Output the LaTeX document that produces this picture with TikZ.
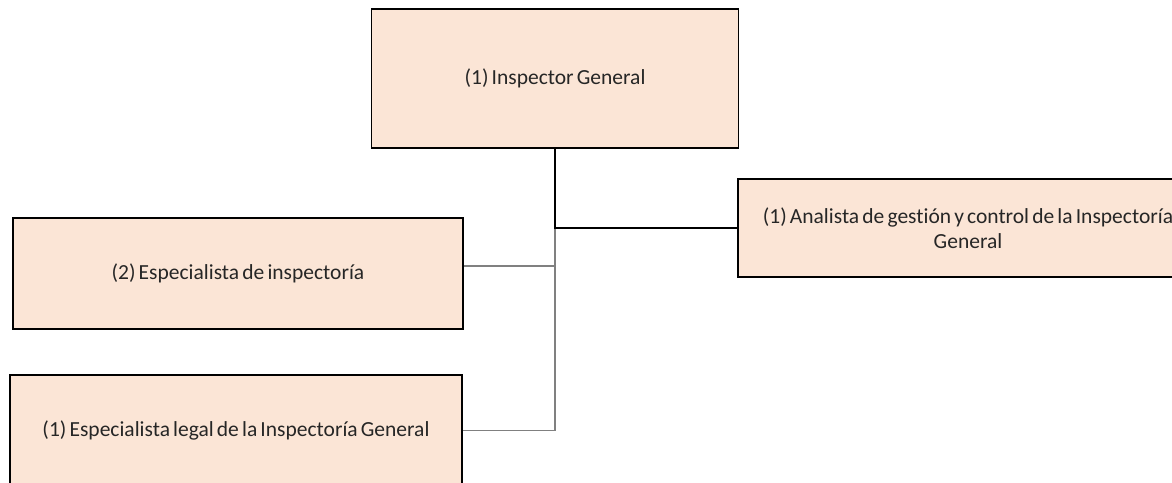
\documentclass[tikz,border=0pt]{standalone}
\usepackage{fontspec}
\setmainfont[WordSpace=0.65,Ligatures=NoCommon]{Carlito}
\usepackage{tikz}
\usetikzlibrary{calc}
\usepackage{color}
\definecolor{saumon}{HTML}{FBE5D6}
\definecolor{texte}{HTML}{262626}
\tikzset{poste/.style={draw=black,line width=.8pt,fill=saumon,inner sep=0pt,align=center,text=texte,font=\fontsize{10.75}{12.5}\selectfont},
	lienfort/.style={black,line width=1pt},
	lienfin/.style={gray,line width=.6pt}}

\begin{document}
\begin{tikzpicture}[x=.5pt,y=-.5pt]
%					Cadre :
					\useasboundingbox (0,0) rectangle (1172,482);
					\clip (0,0) rectangle (1172,482);
%					Les postes :
					\node[poste,minimum width=183.5pt,minimum height=69.5pt] (ig) at (555,78.5) {(1) Inspector General};
					\node[poste,minimum width=230pt,minimum height=49pt] (ana) at (968,228) {(1) Analista de gestión y control de la Inspectoría\\General};
					\node[poste,minimum width=225pt,minimum height=55.5pt] (esp) at (238,273.5) {(2) Especialista de inspectoría};
					\node[poste,minimum width=226pt,minimum height=55.5pt] (leg) at (236,430.5) {(1) Especialista legal de la Inspectoría General};
%					Les liens :
					\coordinate (jonc) at (ig.south |- ana.west);
					\draw[lienfin] (jonc) |- ([yshift=3.75pt]esp.east);
					\draw[lienfin] (jonc) |- (leg.east);
					\draw[lienfort] (ig.south) |- (ana.west);
\end{tikzpicture}
\end{document}
